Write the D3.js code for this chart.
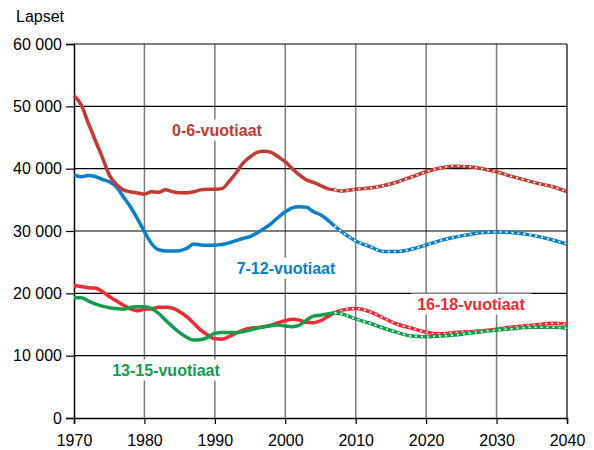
<!DOCTYPE html>
<html>
<head>
<meta charset="utf-8">
<script src="https://cdn.jsdelivr.net/npm/d3@7"></script>
<style>
body { margin: 0; background: #fff; }
text { font-family: "Liberation Sans", Arial, sans-serif; }
</style>
</head>
<body>
<svg id="chart" width="594" height="450"></svg>
<script>
// data
var yearsHist = d3.range(1970, 2008);
var yearsProj = [2007, 2008, 2010, 2012, 2014, 2016, 2018, 2020, 2022, 2024, 2026, 2028, 2030, 2032, 2034, 2036, 2038, 2040];

var hist0_6 = [51700, 50300, 47400, 44600, 41900, 39000, 37500, 36600, 36300, 36100,
	35900, 36300, 36200, 36600, 36300, 36150, 36150, 36300, 36600, 36700,
	36700, 36800, 37900, 39300, 40900, 41900, 42600, 42800, 42600, 41900,
	41100, 40000, 39000, 38200, 37800, 37300, 36800, 36600];
var proj0_6 = [36600, 36400, 36700, 36900, 37300, 37900, 38700, 39500, 40100, 40400, 40300, 40000, 39500, 38800, 38200, 37600, 37100, 36300];

var hist7_12 = [39000, 38700, 38900, 38750, 38300, 37900, 37100, 35500, 33900, 32000,
	29900, 28000, 27000, 26800, 26800, 26850, 27200, 27900, 27750, 27700,
	27700, 27850, 28100, 28450, 28800, 29100, 29700, 30400, 31200, 32200,
	33100, 33700, 33900, 33800, 33100, 32600, 31800, 30800];
var proj7_12 = [30800, 29900, 28400, 27500, 26700, 26700, 27100, 27750, 28450, 29000, 29400, 29750, 29850, 29750, 29500, 29100, 28550, 27900];

var hist13_15 = [19300, 19300, 18800, 18300, 17950, 17700, 17550, 17450, 17750, 17850,
	17850, 17600, 16800, 15700, 14650, 13700, 12950, 12500, 12600, 12950,
	13600, 13700, 13700, 13700, 13850, 14100, 14400, 14650, 14800, 14900,
	14750, 14650, 14900, 15700, 16350, 16500, 16700, 16900];
var proj13_15 = [16900, 16700, 15900, 15200, 14400, 13700, 13150, 13050, 13150, 13300, 13600, 13850, 14100, 14300, 14500, 14550, 14550, 14400];

var hist16_18 = [21200, 21100, 20900, 20850, 20300, 19500, 18800, 18100, 17500, 17200,
	17450, 17500, 17750, 17750, 17600, 17050, 16250, 15200, 14100, 13300,
	12700, 12650, 13050, 13600, 14100, 14400, 14500, 14650, 14900, 15300,
	15600, 15850, 15700, 15350, 15300, 15600, 16250, 16900];
var proj16_18 = [16900, 17300, 17550, 17050, 16000, 15000, 14400, 13750, 13500, 13700, 13850, 14000, 14250, 14550, 14800, 15000, 15200, 15050];

var xTicks = [1970, 1980, 1990, 2000, 2010, 2020, 2030, 2040];
var yTicks = [0, 10000, 20000, 30000, 40000, 50000, 60000];

var series = [
	{ name: "0-6-vuotiaat", color: "#c23a33", hist: hist0_6, proj: proj0_6, lx: 217, ly: 130 },
	{ name: "7-12-vuotiaat", color: "#0a7ec6", hist: hist7_12, proj: proj7_12, lx: 286, ly: 268 },
	{ name: "13-15-vuotiaat", color: "#129c4c", hist: hist13_15, proj: proj13_15, lx: 166, ly: 370 },
	{ name: "16-18-vuotiaat", color: "#ee2a33", hist: hist16_18, proj: proj16_18, lx: 471, ly: 304 }
];

var svg = d3.select("#chart");
var pLeft = 74, pRight = 567, pTop = 44, pBottom = 418;

var x = d3.scaleLinear().domain([1970, 2040]).range([pLeft, pRight]);
var y = d3.scaleLinear().domain([0, 60000]).range([pBottom, pTop]);

// grid
svg.append("g")
	.selectAll("line")
	.data(xTicks.slice(1, -1))
	.enter()
	.append("line")
	.attr("x1", function(d) { return x(d); })
	.attr("x2", function(d) { return x(d); })
	.attr("y1", pTop)
	.attr("y2", pBottom)
	.attr("stroke", "#7a7a7a")
	.attr("stroke-width", 1.5);

svg.append("g")
	.selectAll("line")
	.data(yTicks.slice(1))
	.enter()
	.append("line")
	.attr("x1", pLeft)
	.attr("x2", pRight)
	.attr("y1", function(d) { return y(d); })
	.attr("y2", function(d) { return y(d); })
	.attr("stroke", "#000")
	.attr("stroke-width", 1.2);

// right border
svg.append("line")
	.attr("x1", pRight).attr("x2", pRight)
	.attr("y1", pTop).attr("y2", pBottom)
	.attr("stroke", "#000").attr("stroke-width", 1.2);

// axes
var xAxis = d3.axisBottom(x)
	.tickValues(xTicks)
	.tickFormat(d3.format("d"))
	.tickSizeOuter(0)
	.tickSize(6)
	.tickPadding(11);
var yAxis = d3.axisLeft(y)
	.tickValues(yTicks)
	.tickFormat(function(d) { return d === 0 ? "0" : d3.format(",")(d).replace(",", " "); })
	.tickSizeOuter(0)
	.tickSize(8)
	.tickPadding(4);

var gx = svg.append("g").attr("transform", "translate(0," + pBottom + ")").call(xAxis);
var gy = svg.append("g").attr("transform", "translate(" + pLeft + ",0)").call(yAxis);
[gx, gy].forEach(function(g) {
	g.selectAll("path").attr("stroke", "#000").attr("stroke-width", 1.5);
	g.selectAll("line").attr("stroke", "#000").attr("stroke-width", 1.2);
	g.selectAll("text")
		.attr("fill", "#000")
		.style("font-size", "16px")
		.style("font-family", "'Liberation Sans', Arial, sans-serif");
});

svg.append("text")
	.attr("x", 16)
	.attr("y", 22)
	.style("font-size", "16px")
	.text("Lapset");

// label boxes (white, cover grid)
var labels = svg.append("g")
	.selectAll("g")
	.data(series)
	.enter()
	.append("g");
labels.append("text")
	.attr("x", function(d) { return d.lx; })
	.attr("y", function(d) { return d.ly; })
	.attr("text-anchor", "middle")
	.attr("dominant-baseline", "central")
	.attr("fill", function(d) { return d.color; })
	.style("font-size", "16px")
	.style("font-weight", "bold")
	.text(function(d) { return d.name; });
labels.each(function() {
	var g = d3.select(this);
	var b = g.select("text").node().getBBox();
	g.insert("rect", "text")
		.attr("x", b.x - 6)
		.attr("y", b.y - 2)
		.attr("width", b.width + 12)
		.attr("height", b.height + 4)
		.attr("fill", "#fff");
});

// lines
var line = d3.line()
	.x(function(d) { return x(d[0]); })
	.y(function(d) { return y(d[1]); })
	.curve(d3.curveMonotoneX);

var lines = svg.append("g");
series.slice().reverse().forEach(function(s) {
	var h = yearsHist.map(function(yr, i) { return [yr, s.hist[i]]; });
	var p = yearsProj.map(function(yr, i) { return [yr, s.proj[i]]; });
	lines.append("path")
		.attr("d", line(h))
		.attr("fill", "none")
		.attr("stroke", s.color)
		.attr("stroke-width", 3.5)
		.attr("stroke-linejoin", "round");
	lines.append("path")
		.attr("d", line(p))
		.attr("fill", "none")
		.attr("stroke", s.color)
		.attr("stroke-width", 3.5)
		.attr("stroke-linejoin", "round");
	lines.append("path")
		.attr("d", line(p))
		.attr("fill", "none")
		.attr("stroke", "#fff")
		.attr("stroke-width", 1.6)
		.attr("stroke-dasharray", "2,4");
});
</script>
</body>
</html>
